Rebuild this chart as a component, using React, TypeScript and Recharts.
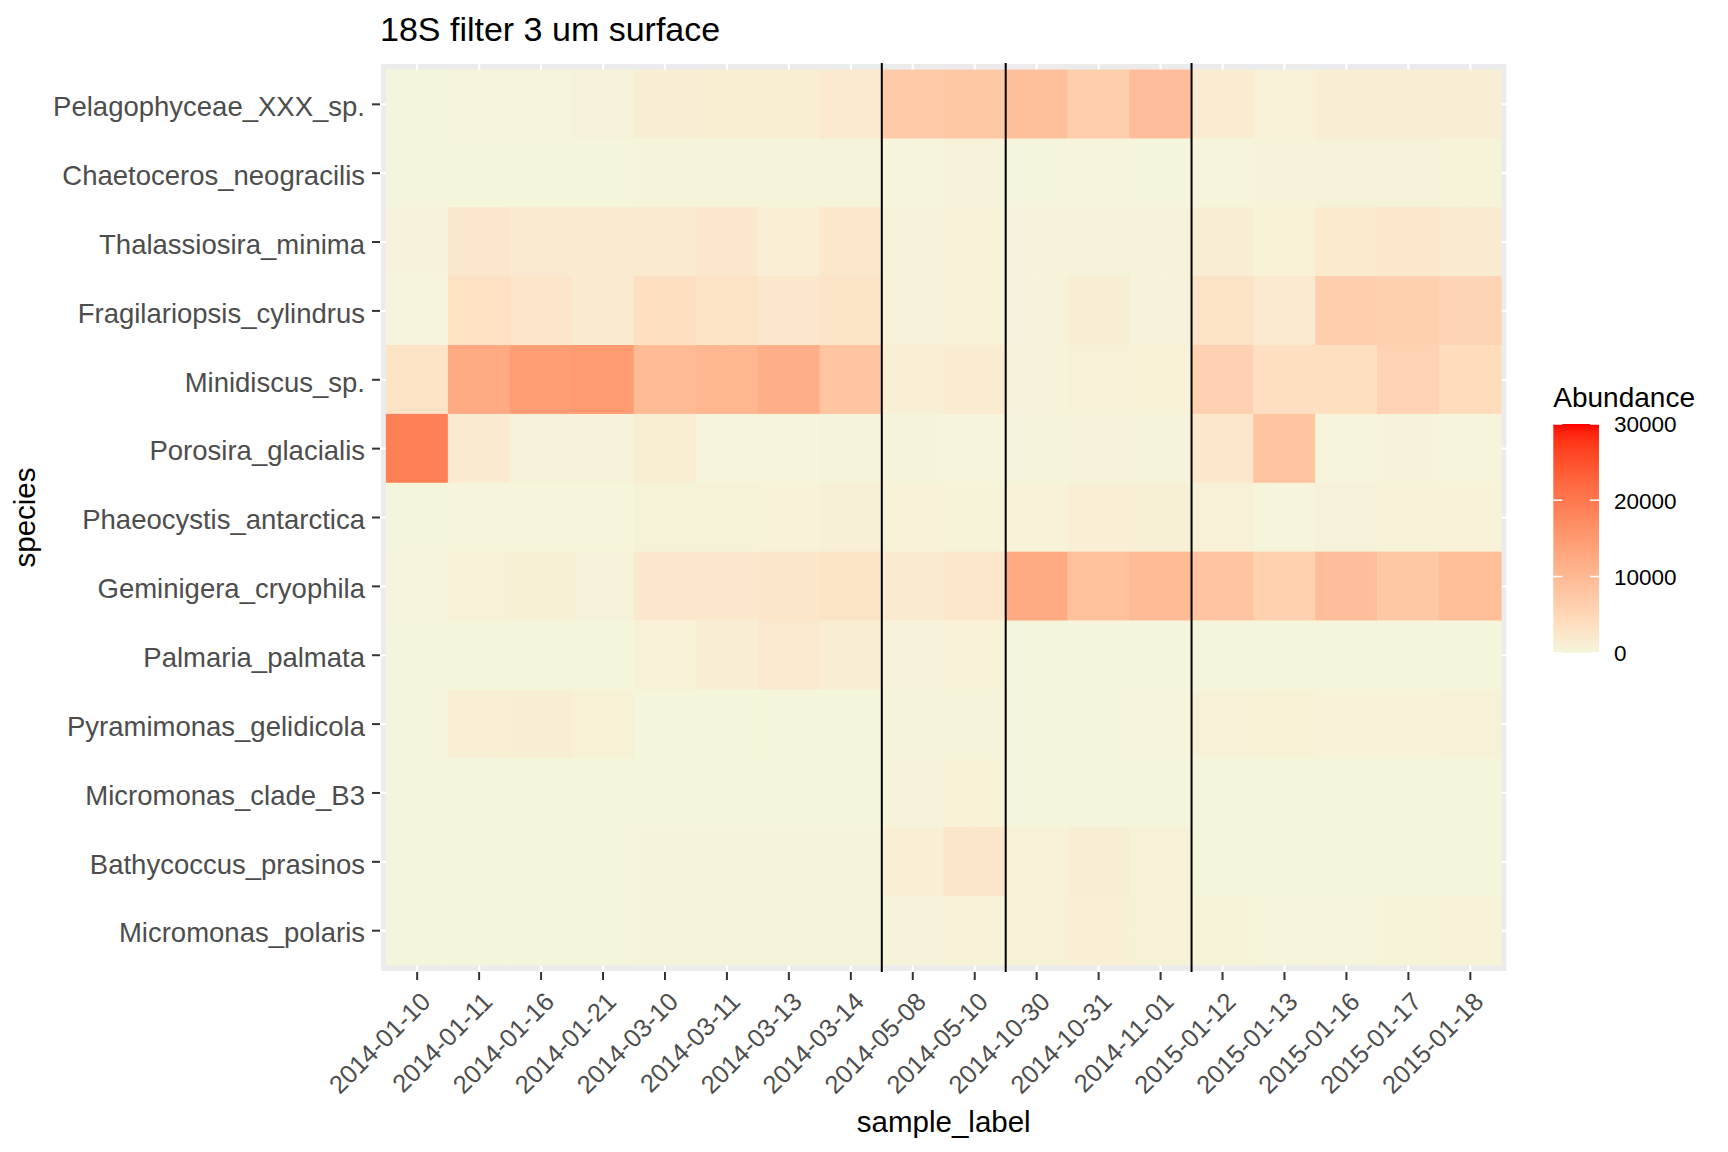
import React from 'react';
import {
  ScatterChart,
  Scatter,
  XAxis,
  YAxis,
  CartesianGrid,
  Customized,
} from 'recharts';

// ---------------- data ----------------
const SAMPLE_LABELS = [
  '2014-01-10', '2014-01-11', '2014-01-16', '2014-01-21', '2014-03-10', '2014-03-11',
  '2014-03-13', '2014-03-14', '2014-05-08', '2014-05-10', '2014-10-30', '2014-10-31',
  '2014-11-01', '2015-01-12', '2015-01-13', '2015-01-16', '2015-01-17', '2015-01-18',
];

const SPECIES = [
  'Pelagophyceae_XXX_sp.',
  'Chaetoceros_neogracilis',
  'Thalassiosira_minima',
  'Fragilariopsis_cylindrus',
  'Minidiscus_sp.',
  'Porosira_glacialis',
  'Phaeocystis_antarctica',
  'Geminigera_cryophila',
  'Palmaria_palmata',
  'Pyramimonas_gelidicola',
  'Micromonas_clade_B3',
  'Bathycoccus_prasinos',
  'Micromonas_polaris',
];

// abundance per sample (same order as SAMPLE_LABELS)
const pelagophyceae = [50, 200, 200, 450, 1250, 1350, 1350, 1950, 7300, 7500, 9000, 6500, 9200, 1450, 600, 1200, 1200, 1200];
const chaetoceros = [50, 50, 50, 80, 100, 100, 120, 150, 200, 300, 80, 200, 50, 200, 300, 450, 450, 350];
const thalassiosira = [300, 2300, 1800, 1800, 1800, 2300, 1100, 2450, 450, 600, 300, 450, 300, 1250, 750, 2100, 2450, 1650];
const fragilariopsis = [200, 3400, 2700, 1800, 3700, 3000, 2300, 2800, 450, 600, 300, 1250, 300, 3100, 1950, 6500, 6300, 5600];
const minidiscus = [2900, 12400, 14300, 15000, 9700, 10300, 11700, 8200, 1100, 1450, 300, 600, 750, 6000, 3700, 3600, 5700, 4300];
const porosira = [18900, 1800, 450, 450, 1300, 250, 200, 150, 150, 200, 150, 300, 100, 2450, 8200, 200, 300, 250];
const phaeocystis = [50, 200, 250, 250, 500, 500, 550, 800, 600, 350, 550, 1100, 900, 600, 250, 450, 550, 550];
const geminigera = [200, 700, 900, 450, 2300, 2300, 2600, 2800, 1650, 2450, 12400, 8600, 9700, 8000, 6100, 9200, 7600, 9400];
const palmaria = [50, 50, 50, 80, 600, 1250, 1950, 1250, 300, 600, 30, 30, 30, 30, 30, 30, 30, 30];
const pyramimonas = [80, 1100, 1250, 750, 80, 80, 80, 80, 100, 100, 80, 80, 200, 600, 750, 550, 550, 700];
const micromonasB3 = [30, 30, 30, 30, 50, 50, 50, 50, 300, 750, 30, 30, 30, 50, 50, 50, 50, 50];
const bathycoccus = [30, 30, 30, 30, 150, 150, 150, 100, 1100, 2600, 600, 1250, 600, 50, 50, 50, 50, 50];
const micromonasPolaris = [30, 30, 30, 30, 100, 100, 100, 100, 300, 550, 600, 1000, 700, 400, 250, 250, 350, 550];

const ABUNDANCE_ROWS = [
  pelagophyceae, chaetoceros, thalassiosira, fragilariopsis, minidiscus, porosira,
  phaeocystis, geminigera, palmaria, pyramimonas, micromonasB3, bathycoccus, micromonasPolaris,
];

// last sample of each group; a separator is drawn after it
const GROUP_ENDS = ['2014-03-14', '2014-05-10', '2014-11-01'];

const LEGEND_BREAKS = [0, 10000, 20000, 30000];
const FILL_LIMITS = [0, 30000];

const tiles = ABUNDANCE_ROWS.flatMap((row, si) =>
  row.map((v, di) => ({ x: di, y: si, v }))
);

const separators = GROUP_ENDS.map((d) => ({ x: SAMPLE_LABELS.indexOf(d) + 0.5, y: (SPECIES.length - 1) / 2 }));

// ---------------- colour scale (Lab interpolation, beige -> red) ----------------
const LOW = [245, 245, 220];
const HIGH = [255, 0, 0];

function toLin(c: number) {
  const s = c / 255;
  return s <= 0.04045 ? s / 12.92 : Math.pow((s + 0.055) / 1.055, 2.4);
}
function fromLin(c: number) {
  const v = Math.max(0, Math.min(1, c));
  const s = v <= 0.0031308 ? 12.92 * v : 1.055 * Math.pow(v, 1 / 2.4) - 0.055;
  return Math.round(Math.max(0, Math.min(1, s)) * 255);
}
const WX = 0.95047, WY = 1.0, WZ = 1.08883;
function fLab(t: number) {
  return t > 0.008856 ? Math.cbrt(t) : 7.787 * t + 16 / 116;
}
function fLabInv(t: number) {
  const t3 = t * t * t;
  return t3 > 0.008856 ? t3 : (t - 16 / 116) / 7.787;
}
function rgbToLab(rgb: number[]) {
  const [r, g, b] = rgb.map(toLin);
  const X = (0.4124 * r + 0.3576 * g + 0.1805 * b) / WX;
  const Y = (0.2126 * r + 0.7152 * g + 0.0722 * b) / WY;
  const Z = (0.0193 * r + 0.1192 * g + 0.9505 * b) / WZ;
  const fx = fLab(X), fy = fLab(Y), fz = fLab(Z);
  return [116 * fy - 16, 500 * (fx - fy), 200 * (fy - fz)];
}
function labToHex(lab: number[]) {
  const [L, a, bb] = lab;
  const fy = (L + 16) / 116;
  const fx = fy + a / 500;
  const fz = fy - bb / 200;
  const X = fLabInv(fx) * WX, Y = fLabInv(fy) * WY, Z = fLabInv(fz) * WZ;
  const r = 3.2406 * X - 1.5372 * Y - 0.4986 * Z;
  const g = -0.9689 * X + 1.8758 * Y + 0.0415 * Z;
  const b = 0.0557 * X - 0.204 * Y + 1.057 * Z;
  const h = (n: number) => fromLin(n).toString(16).padStart(2, '0');
  return '#' + h(r) + h(g) + h(b);
}
const LOW_LAB = rgbToLab(LOW);
const HIGH_LAB = rgbToLab(HIGH);
function fillFor(v: number) {
  const t = Math.max(0, Math.min(1, (v - FILL_LIMITS[0]) / (FILL_LIMITS[1] - FILL_LIMITS[0])));
  return labToHex(LOW_LAB.map((c, i) => c + (HIGH_LAB[i] - c) * t));
}

// ---------------- layout ----------------
const W = 1728;
const H = 1152;
const MARGIN = { top: 63, right: 220.5, bottom: 0, left: 0 };
const Y_AXIS_W = 380;
const X_AXIS_H = 180;
const PLOT_W = W - MARGIN.left - MARGIN.right - Y_AXIS_W;
const PLOT_H = H - MARGIN.top - MARGIN.bottom - X_AXIS_H;
const PLOT_X = MARGIN.left + Y_AXIS_W;
const PLOT_Y = MARGIN.top;
const CELL_W = PLOT_W / (SAMPLE_LABELS.length + 0.2);
const CELL_H = PLOT_H / (SPECIES.length + 0.2);

const FONT = '"Liberation Sans", Arial, Helvetica, sans-serif';

const Tile = (props: any) => {
  const { cx, cy, payload } = props;
  if (cx == null || cy == null) return null;
  return (
    <rect
      x={cx - CELL_W / 2 - 0.3}
      y={cy - CELL_H / 2 - 0.3}
      width={CELL_W + 0.6}
      height={CELL_H + 0.6}
      fill={fillFor(payload.v)}
      stroke="none"
    />
  );
};

// vertical separator spanning the full panel, placed at the scaled x position
const Separator = (props: any) => {
  const { cx } = props;
  if (cx == null) return null;
  return <line x1={cx} x2={cx} y1={PLOT_Y} y2={PLOT_Y + PLOT_H} stroke="#000000" strokeWidth={2} />;
};

const XTick = (props: any) => {
  const { x, y, payload } = props;
  return (
    <text
      transform={`translate(${x},${y - 1}) rotate(-45)`}
      x={-6.6}
      y={27.5}
      textAnchor="end"
      fontSize={25.5}
      fill="#4D4D4D"
      fontFamily={FONT}
    >
      {SAMPLE_LABELS[payload.value]}
    </text>
  );
};

const YTick = (props: any) => {
  const { x, y, payload } = props;
  return (
    <text
      x={x}
      y={y + 2}
      dy="0.355em"
      textAnchor="end"
      fontSize={27.5}
      fill="#4D4D4D"
      fontFamily={FONT}
    >
      {SPECIES[payload.value]}
    </text>
  );
};

const BAR_X = 1553.3;
const BAR_W = 45.7;
const BAR_TOP = 424;
const BAR_H = 228.7;

const Decorations = () => {
  const stops = Array.from({ length: 31 }, (_, i) => i / 30);
  const yFor = (v: number) =>
    BAR_TOP + BAR_H - ((v - FILL_LIMITS[0]) / (FILL_LIMITS[1] - FILL_LIMITS[0])) * BAR_H;
  return (
    <g fontFamily={FONT}>
      <defs>
        <linearGradient id="abundanceGrad" x1="0" y1="1" x2="0" y2="0">
          {stops.map((t) => (
            <stop
              key={t}
              offset={`${t * 100}%`}
              stopColor={fillFor(FILL_LIMITS[0] + t * (FILL_LIMITS[1] - FILL_LIMITS[0]))}
            />
          ))}
        </linearGradient>
      </defs>
      {/* plot title */}
      <text x={PLOT_X} y={41} fontSize={34} fill="#000000">
        18S filter 3 um surface
      </text>
      {/* axis titles */}
      <text x={PLOT_X + PLOT_W / 2} y={1132} fontSize={29.5} fill="#000000" textAnchor="middle">
        sample_label
      </text>
      <text
        transform={`translate(35,${PLOT_Y + PLOT_H / 2}) rotate(-90)`}
        fontSize={29.5}
        fill="#000000"
        textAnchor="middle"
      >
        species
      </text>
      {/* colour bar legend */}
      <text x={BAR_X} y={406.5} fontSize={28} fill="#000000">
        Abundance
      </text>
      <rect x={BAR_X} y={BAR_TOP} width={BAR_W} height={BAR_H} fill="url(#abundanceGrad)" />
      {LEGEND_BREAKS.map((b) => (
        <g key={b}>
          <line x1={BAR_X} x2={BAR_X + 9} y1={yFor(b)} y2={yFor(b)} stroke="#FFFFFF" strokeWidth={1.5} />
          <line x1={BAR_X + BAR_W - 9} x2={BAR_X + BAR_W} y1={yFor(b)} y2={yFor(b)} stroke="#FFFFFF" strokeWidth={1.5} />
          <text x={1614} y={yFor(b) + 8.4} fontSize={22.5} fill="#000000">
            {b}
          </text>
        </g>
      ))}
    </g>
  );
};

export default function App() {
  const xTicks = SAMPLE_LABELS.map((_, i) => i);
  const yTicks = SPECIES.map((_, i) => i);
  return (
    <div style={{ position: 'absolute', left: 0, top: 0, width: W, height: H, background: '#FFFFFF' }}>
      <ScatterChart width={W} height={H} margin={MARGIN}>
        <CartesianGrid fill="#EBEBEB" stroke="#FFFFFF" strokeWidth={2.2} />
        <XAxis
          type="number"
          dataKey="x"
          domain={[-0.6, SAMPLE_LABELS.length - 0.4]}
          ticks={xTicks}
          interval={0}
          height={X_AXIS_H}
          axisLine={false}
          tickSize={8}
          tickMargin={0}
          tickLine={{ stroke: '#333333', strokeWidth: 2 }}
          tick={<XTick />}
          allowDataOverflow
        />
        <YAxis
          type="number"
          dataKey="y"
          domain={[-0.6, SPECIES.length - 0.4]}
          ticks={yTicks}
          interval={0}
          reversed
          width={Y_AXIS_W}
          axisLine={false}
          tickSize={8}
          tickMargin={7}
          tickLine={{ stroke: '#333333', strokeWidth: 2 }}
          tick={<YTick />}
          allowDataOverflow
        />
        <Scatter data={tiles} shape={<Tile />} isAnimationActive={false} />
        <Scatter data={separators} shape={<Separator />} isAnimationActive={false} />
        <Customized component={<Decorations />} />
      </ScatterChart>
    </div>
  );
}
